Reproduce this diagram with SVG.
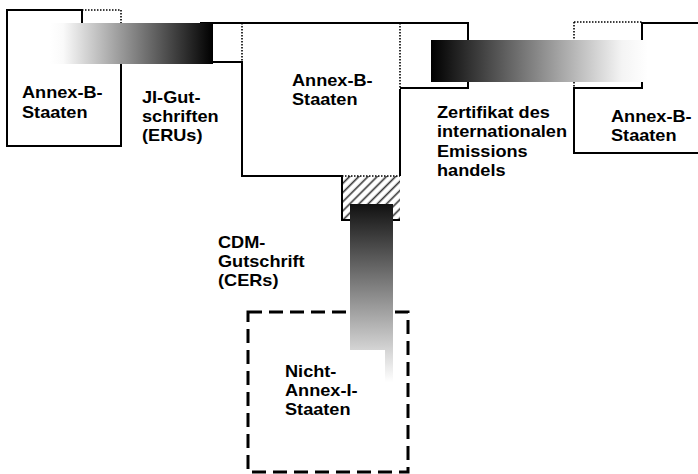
<svg xmlns="http://www.w3.org/2000/svg" width="698" height="474" viewBox="0 0 698 474">
  <defs>
    <linearGradient id="gL" x1="0" y1="0" x2="1" y2="0">
      <stop offset="0" stop-color="#ffffff"/>
      <stop offset="0.08" stop-color="#fafafa"/>
      <stop offset="1" stop-color="#000000"/>
    </linearGradient>
    <linearGradient id="gR" x1="0" y1="0" x2="1" y2="0">
      <stop offset="0" stop-color="#000000"/>
      <stop offset="0.88" stop-color="#f4f4f4"/>
      <stop offset="1" stop-color="#ffffff"/>
    </linearGradient>
    <linearGradient id="gV" x1="0" y1="0" x2="0" y2="1">
      <stop offset="0" stop-color="#111111"/>
      <stop offset="1" stop-color="#ffffff"/>
    </linearGradient>
    <pattern id="hatch" width="6.5" height="6.5" patternUnits="userSpaceOnUse" patternTransform="rotate(45)">
      <rect width="6.5" height="6.5" fill="#ffffff"/>
      <line x1="1.5" y1="0" x2="1.5" y2="6.5" stroke="#333" stroke-width="1.6"/>
    </pattern>
  </defs>
  <style>
    .s { fill: none; stroke: #000; stroke-width: 2; }
    .d { fill: none; stroke: #000; stroke-width: 1.6; stroke-dasharray: 1.5 1.5; }
    .dash { fill: none; stroke: #000; stroke-width: 3; stroke-dasharray: 14 7; }
    .t { font-family: "Liberation Sans", Arial, sans-serif; font-weight: bold; font-size: 16.5px; fill: #000; }
  </style>
  <rect width="698" height="474" fill="#ffffff"/>

  <g id="node-left-annexb">
    <path class="s" d="M82,23 V10 H7 V146 H121 V64"/>
    <path class="d" d="M82,10 H121 V23"/>
    <text class="t" transform="translate(22,98) scale(1.1,1)"><tspan x="0" y="0">Annex-B-</tspan><tspan x="0" y="20">Staaten</tspan></text>
  </g>

  <g id="node-center-annexb">
    <path class="s" d="M200,23 H468 V88 H400"/>
    <path class="s" d="M213,62 H242 V176 H342 V220 H400"/>
    <path class="s" d="M400,89 V176"/>
    <path class="d" d="M242,23 V62"/>
    <path class="d" d="M400,23 V89"/>
    <rect x="342" y="176" width="58" height="44" fill="url(#hatch)"/>
    <path class="s" d="M342,176 V220 H400"/>
    <path class="d" d="M342,176 H400"/>
    <text class="t" transform="translate(292,86) scale(1.1,1)"><tspan x="0" y="0">Annex-B-</tspan><tspan x="0" y="19">Staaten</tspan></text>
  </g>

  <g id="node-right-annexb">
    <path class="d" d="M574,22 H642"/>
    <path class="d" d="M574,22 V88"/>
    <path class="s" d="M642,22 V88 H574 V153 H698"/>
    <path class="s" d="M642,23 H698"/>
    <text class="t" transform="translate(611,122) scale(1.1,1)"><tspan x="0" y="0">Annex-B-</tspan><tspan x="0" y="19">Staaten</tspan></text>
  </g>

  <g id="node-nicht-annex">
    <rect class="dash" x="248" y="312" width="160" height="160"/>
    <text class="t" transform="translate(285,377) scale(1.1,1)"><tspan x="0" y="0">Nicht-</tspan><tspan x="0" y="19">Annex-I-</tspan><tspan x="0" y="38">Staaten</tspan></text>
  </g>

  <g id="connectors">
    <rect x="50" y="23" width="163" height="41" fill="url(#gL)"/>
    <rect x="431" y="40" width="217" height="42" fill="url(#gR)"/>
    <rect x="350" y="204" width="43" height="178" fill="url(#gV)"/>
    <rect x="340" y="350" width="45" height="34" fill="#ffffff"/>
    <text class="t" transform="translate(142,103) scale(1.1,1)"><tspan x="0" y="0">JI-Gut-</tspan><tspan x="0" y="19">schriften</tspan><tspan x="0" y="38">(ERUs)</tspan></text>
    <text class="t" transform="translate(437,118) scale(1.1,1)"><tspan x="0" y="0">Zertifikat des</tspan><tspan x="0" y="19.5">internationalen</tspan><tspan x="0" y="39">Emissions</tspan><tspan x="0" y="58.5">handels</tspan></text>
    <text class="t" transform="translate(218,248) scale(1.1,1)"><tspan x="0" y="0">CDM-</tspan><tspan x="0" y="19">Gutschrift</tspan><tspan x="0" y="38">(CERs)</tspan></text>
  </g>
</svg>
